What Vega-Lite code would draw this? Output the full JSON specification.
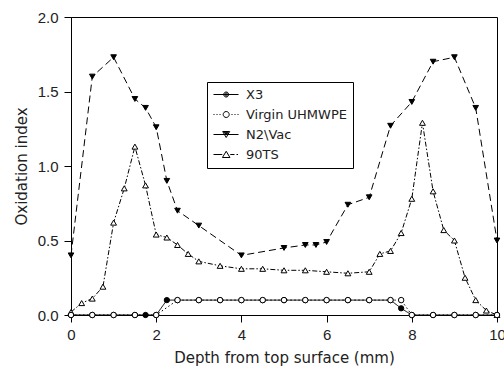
{
  "$schema": "https://vega.github.io/schema/vega-lite/v6.json",
  "width": 426,
  "height": 298,
  "autosize": {"type": "none"},
  "padding": {"left": 71, "top": 17, "right": 7, "bottom": 56},
  "config": {
    "font": "Liberation Sans",
    "view": {"stroke": "black", "strokeWidth": 1},
    "axis": {
      "grid": false,
      "domainColor": "black",
      "tickColor": "black",
      "tickSize": 7,
      "labelFontSize": 15,
      "labelColor": "#222",
      "titleFontSize": 15,
      "titleFontWeight": "normal",
      "titleColor": "#222",
      "labelFont": "Liberation Sans",
      "titleFont": "DejaVu Sans"
    }
  },
  "data": {
    "values": [
      {"series": "90TS", "depth": 0, "oi": 0.02},
      {"series": "90TS", "depth": 0.25, "oi": 0.08},
      {"series": "90TS", "depth": 0.5, "oi": 0.11},
      {"series": "90TS", "depth": 0.75, "oi": 0.19},
      {"series": "90TS", "depth": 1.0, "oi": 0.62},
      {"series": "90TS", "depth": 1.25, "oi": 0.85},
      {"series": "90TS", "depth": 1.5, "oi": 1.13},
      {"series": "90TS", "depth": 1.75, "oi": 0.87},
      {"series": "90TS", "depth": 2.0, "oi": 0.54},
      {"series": "90TS", "depth": 2.25, "oi": 0.52},
      {"series": "90TS", "depth": 2.5, "oi": 0.47},
      {"series": "90TS", "depth": 2.75, "oi": 0.41},
      {"series": "90TS", "depth": 3.0, "oi": 0.36},
      {"series": "90TS", "depth": 3.5, "oi": 0.33},
      {"series": "90TS", "depth": 4.0, "oi": 0.31},
      {"series": "90TS", "depth": 4.5, "oi": 0.31},
      {"series": "90TS", "depth": 5.0, "oi": 0.30},
      {"series": "90TS", "depth": 5.5, "oi": 0.30},
      {"series": "90TS", "depth": 6.0, "oi": 0.29},
      {"series": "90TS", "depth": 6.5, "oi": 0.28},
      {"series": "90TS", "depth": 7.0, "oi": 0.29},
      {"series": "90TS", "depth": 7.25, "oi": 0.41},
      {"series": "90TS", "depth": 7.5, "oi": 0.43},
      {"series": "90TS", "depth": 7.75, "oi": 0.55},
      {"series": "90TS", "depth": 8.0, "oi": 0.78},
      {"series": "90TS", "depth": 8.25, "oi": 1.29},
      {"series": "90TS", "depth": 8.5, "oi": 0.83},
      {"series": "90TS", "depth": 8.75, "oi": 0.57},
      {"series": "90TS", "depth": 9.0, "oi": 0.50},
      {"series": "90TS", "depth": 9.25, "oi": 0.25},
      {"series": "90TS", "depth": 9.5, "oi": 0.10},
      {"series": "90TS", "depth": 9.75, "oi": 0.03},
      {"series": "90TS", "depth": 10.0, "oi": 0.0},
      {"series": "N2\\Vac", "depth": 0, "oi": 0.40},
      {"series": "N2\\Vac", "depth": 0.5, "oi": 1.60},
      {"series": "N2\\Vac", "depth": 1.0, "oi": 1.73},
      {"series": "N2\\Vac", "depth": 1.5, "oi": 1.45},
      {"series": "N2\\Vac", "depth": 1.75, "oi": 1.39},
      {"series": "N2\\Vac", "depth": 2.0, "oi": 1.26},
      {"series": "N2\\Vac", "depth": 2.25, "oi": 0.90},
      {"series": "N2\\Vac", "depth": 2.5, "oi": 0.70},
      {"series": "N2\\Vac", "depth": 3.0, "oi": 0.60},
      {"series": "N2\\Vac", "depth": 4.0, "oi": 0.40},
      {"series": "N2\\Vac", "depth": 5.0, "oi": 0.45},
      {"series": "N2\\Vac", "depth": 5.5, "oi": 0.47},
      {"series": "N2\\Vac", "depth": 5.75, "oi": 0.47},
      {"series": "N2\\Vac", "depth": 6.0, "oi": 0.49},
      {"series": "N2\\Vac", "depth": 6.5, "oi": 0.74},
      {"series": "N2\\Vac", "depth": 7.0, "oi": 0.79},
      {"series": "N2\\Vac", "depth": 7.5, "oi": 1.27},
      {"series": "N2\\Vac", "depth": 8.0, "oi": 1.43},
      {"series": "N2\\Vac", "depth": 8.5, "oi": 1.70},
      {"series": "N2\\Vac", "depth": 9.0, "oi": 1.73},
      {"series": "N2\\Vac", "depth": 9.5, "oi": 1.39},
      {"series": "N2\\Vac", "depth": 10.0, "oi": 0.50},
      {"series": "X3", "depth": 0, "oi": 0},
      {"series": "X3", "depth": 0.5, "oi": 0},
      {"series": "X3", "depth": 1.0, "oi": 0},
      {"series": "X3", "depth": 1.5, "oi": 0},
      {"series": "X3", "depth": 1.75, "oi": 0},
      {"series": "X3", "depth": 2.0, "oi": 0},
      {"series": "X3", "depth": 2.25, "oi": 0.1},
      {"series": "X3", "depth": 2.5, "oi": 0.1},
      {"series": "X3", "depth": 3.0, "oi": 0.1},
      {"series": "X3", "depth": 3.5, "oi": 0.1},
      {"series": "X3", "depth": 4.0, "oi": 0.1},
      {"series": "X3", "depth": 4.5, "oi": 0.1},
      {"series": "X3", "depth": 5.0, "oi": 0.1},
      {"series": "X3", "depth": 5.5, "oi": 0.1},
      {"series": "X3", "depth": 6.0, "oi": 0.1},
      {"series": "X3", "depth": 6.5, "oi": 0.1},
      {"series": "X3", "depth": 7.0, "oi": 0.1},
      {"series": "X3", "depth": 7.5, "oi": 0.1},
      {"series": "X3", "depth": 7.75, "oi": 0.045},
      {"series": "X3", "depth": 8.0, "oi": 0},
      {"series": "X3", "depth": 8.5, "oi": 0},
      {"series": "X3", "depth": 9.0, "oi": 0},
      {"series": "X3", "depth": 9.5, "oi": 0},
      {"series": "X3", "depth": 10.0, "oi": 0},
      {"series": "Virgin UHMWPE", "depth": 0, "oi": 0},
      {"series": "Virgin UHMWPE", "depth": 0.5, "oi": 0},
      {"series": "Virgin UHMWPE", "depth": 1.0, "oi": 0},
      {"series": "Virgin UHMWPE", "depth": 1.5, "oi": 0},
      {"series": "Virgin UHMWPE", "depth": 2.0, "oi": 0},
      {"series": "Virgin UHMWPE", "depth": 2.5, "oi": 0.1},
      {"series": "Virgin UHMWPE", "depth": 3.0, "oi": 0.1},
      {"series": "Virgin UHMWPE", "depth": 3.5, "oi": 0.1},
      {"series": "Virgin UHMWPE", "depth": 4.0, "oi": 0.1},
      {"series": "Virgin UHMWPE", "depth": 4.5, "oi": 0.1},
      {"series": "Virgin UHMWPE", "depth": 5.0, "oi": 0.1},
      {"series": "Virgin UHMWPE", "depth": 5.5, "oi": 0.1},
      {"series": "Virgin UHMWPE", "depth": 6.0, "oi": 0.1},
      {"series": "Virgin UHMWPE", "depth": 6.5, "oi": 0.1},
      {"series": "Virgin UHMWPE", "depth": 7.0, "oi": 0.1},
      {"series": "Virgin UHMWPE", "depth": 7.5, "oi": 0.1},
      {"series": "Virgin UHMWPE", "depth": 7.75, "oi": 0.1},
      {"series": "Virgin UHMWPE", "depth": 8.0, "oi": 0},
      {"series": "Virgin UHMWPE", "depth": 8.5, "oi": 0},
      {"series": "Virgin UHMWPE", "depth": 9.0, "oi": 0},
      {"series": "Virgin UHMWPE", "depth": 9.5, "oi": 0},
      {"series": "Virgin UHMWPE", "depth": 10.0, "oi": 0}
    ]
  },
  "encoding": {
    "x": {
      "field": "depth", "type": "quantitative",
      "scale": {"domain": [0, 10], "nice": false, "zero": false},
      "axis": {"title": "Depth from top surface (mm)", "values": [0, 2, 4, 6, 8, 10], "format": "d", "labelPadding": 5, "titlePadding": 8, "labelFlush": false}
    },
    "y": {
      "field": "oi", "type": "quantitative",
      "scale": {"domain": [0, 2], "nice": false},
      "axis": {"title": "Oxidation index", "values": [0, 0.5, 1, 1.5, 2], "format": ".1f", "labelPadding": 6, "titlePadding": 8, "labelFlush": false}
    }
  },
  "layer": [
    {
      "mark": {"type": "line", "stroke": "black", "strokeWidth": 1},
      "encoding": {
        "strokeDash": {
          "field": "series", "type": "nominal",
          "scale": {
            "domain": ["X3", "Virgin UHMWPE", "N2\\Vac", "90TS"],
            "range": [[1, 0], [1.5, 2.5], [7, 4], [5, 2, 1.5, 2]]
          },
          "legend": null
        }
      }
    },
    {
      "mark": {"type": "point", "stroke": "black", "strokeWidth": 1, "opacity": 1},
      "encoding": {
        "shape": {
          "field": "series", "type": "nominal",
          "scale": {"domain": ["X3", "Virgin UHMWPE", "N2\\Vac", "90TS"], "range": ["circle", "circle", "triangle-down", "triangle-up"]},
          "legend": null
        },
        "fill": {
          "field": "series", "type": "nominal",
          "scale": {"domain": ["X3", "Virgin UHMWPE", "N2\\Vac", "90TS"], "range": ["black", "white", "black", "white"]},
          "legend": null
        },
        "size": {
          "field": "series", "type": "nominal",
          "scale": {"domain": ["X3", "Virgin UHMWPE", "N2\\Vac", "90TS"], "range": [28, 34, 50, 48]},
          "legend": null
        }
      }
    },
    {
      "mark": {"type": "point", "stroke": "black", "strokeWidth": 1, "opacity": 0, "filled": false, "size": 100},
      "encoding": {
        "shape": {
          "field": "series", "type": "nominal",
          "scale": {
            "domain": ["X3", "Virgin UHMWPE", "N2\\Vac", "90TS"],
            "range": [
              "M-1.2,0L3.8,0M1.84,0A0.5,0.5 0 1 1 0.84,0A0.5,0.5 0 1 1 1.84,0ZM1.64,0A0.3,0.3 0 1 1 1.04,0A0.3,0.3 0 1 1 1.64,0ZM1.44,0A0.1,0.1 0 1 1 1.24,0A0.1,0.1 0 1 1 1.44,0Z",
              "M-1.2,0L-1.0,0M-0.6,0L-0.4,0M0,0L0.2,0M2.4,0L2.6,0M3.0,0L3.2,0M3.6,0L3.8,0M1.94,0A0.6,0.6 0 1 1 0.74,0A0.6,0.6 0 1 1 1.94,0Z",
              "M-1.2,0L3.8,0M0.64,-0.6L2.04,-0.6L1.34,0.6ZM0.92,-0.44L1.76,-0.44L1.34,0.04ZM1.165,-0.3L1.515,-0.3L1.34,-0.1Z",
              "M-1.2,0L0.55,0M2.15,0L3.0,0M3.4,0L3.7,0M1.34,-0.65L2.09,0.6L0.59,0.6Z"
            ]
          },
          "legend": {
            "title": null,
            "orient": "none",
            "legendX": 136,
            "legendY": 65,
            "padding": 6,
            "strokeColor": "black",
            "fillColor": "white",
            "labelFontSize": 13,
            "labelFont": "DejaVu Sans",
            "labelColor": "#222",
            "labelOffset": 20,
            "rowPadding": 6,
            "symbolSize": 100,
            "symbolOpacity": 1,
            "symbolStrokeColor": "black",
            "symbolStrokeWidth": 1,
            "symbolFillColor": "transparent"
          }
        }
      }
    }
  ],
  "resolve": {"scale": {"shape": "independent"}}
}
